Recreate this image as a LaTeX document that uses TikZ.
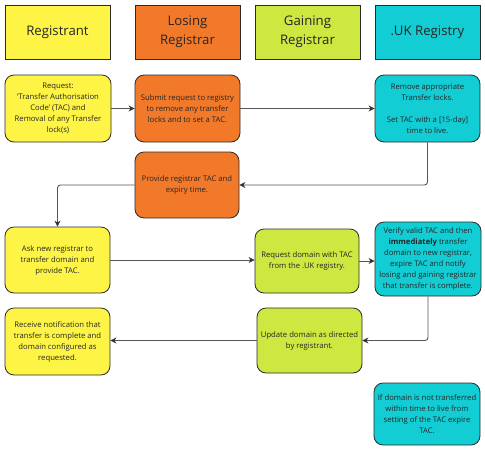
\documentclass[tikz,border=0pt]{standalone}
\usepackage{fontspec}
\setmainfont{Open Sans}
\usetikzlibrary{arrows.meta}
\definecolor{cyel}{HTML}{FEF445}
\definecolor{cora}{HTML}{F2792A}
\definecolor{clime}{HTML}{CEE741}
\definecolor{ccyan}{HTML}{12CDD4}
\definecolor{cline}{HTML}{555555}
\definecolor{cborder}{HTML}{2B2B2B}
\begin{document}
\begin{tikzpicture}[x=1pt,y=-1pt,
  head/.style={draw=cborder,line width=0.8pt,minimum width=105pt,minimum height=54pt,inner sep=0pt,align=center,
    font=\fontsize{13.2}{19}\selectfont,text=black!85},
  stepbox/.style={draw=cborder,line width=0.8pt,rounded corners=9pt,inner sep=0pt,align=center,
    font=\fontsize{7.7}{11}\selectfont,text=black!85},
  conn/.style={draw=cline,line width=0.9pt,-{Stealth[length=6pt,width=6pt,color=black!80]},rounded corners=3pt}]
\useasboundingbox (0,0) rectangle (485,451);
% headers
\node[head,fill=cyel] (h1) at (57.5,32) {Registrant};
\node[head,fill=cora] (h2) at (187.5,32) {Losing\\Registrar};
\node[head,fill=clime] (h3) at (307.5,32) {Gaining\\Registrar};
\node[head,fill=ccyan] (h4) at (427.5,32) {.UK Registry};
% row 1
\node[stepbox,fill=cyel,minimum width=106pt,minimum height=67pt] (r1) at (58,108.5)
  {Request:\\‘Transfer Authorisation\\Code’ (TAC) and\\Removal of any Transfer\\lock(s)};
\node[stepbox,fill=cora,minimum width=105pt,minimum height=67pt] (l1) at (187.5,108.5)
  {Submit request to registry\\to remove any transfer\\locks and to set a TAC.};
\node[stepbox,fill=ccyan,minimum width=105pt,minimum height=67pt] (u1) at (427.5,108.5)
  {Remove appropriate\\Transfer locks.\\[11pt]Set TAC with a [15-day]\\time to live.};
% row 2
\node[stepbox,fill=cora,minimum width=104pt,minimum height=66pt] (l2) at (187,185)
  {Provide registrar TAC and\\expiry time.};
% row 3
\node[stepbox,fill=cyel,minimum width=105pt,minimum height=66pt] (r2) at (57.5,260)
  {Ask new registrar to\\transfer domain and\\provide TAC.};
\node[stepbox,fill=clime,minimum width=104pt,minimum height=64pt] (g2) at (307,261)
  {Request domain with TAC\\from the .UK registry.};
\node[stepbox,fill=ccyan,minimum width=106pt,minimum height=74pt] (u2) at (428,259)
  {Verify valid TAC and then\\\textbf{immediately} transfer\\domain to new registrar,\\expire TAC and notify\\losing and gaining registrar\\that transfer is complete.};
% row 4
\node[stepbox,fill=cyel,minimum width=105pt,minimum height=67pt] (r3) at (57.5,341.5)
  {Receive notification that\\transfer is complete and\\domain configured as\\requested.};
\node[stepbox,fill=clime,minimum width=105pt,minimum height=65pt] (g3) at (309.5,340.5)
  {Update domain as directed\\by registrant.};
% note
\node[stepbox,fill=ccyan,minimum width=106pt,minimum height=62pt] (u3) at (427,414)
  {If domain is not transferred\\within time to live from\\setting of the TAC expire\\TAC.};
% connectors
\draw[conn] (r1.east) -- (l1.west);
\draw[conn] (l1.east) -- (u1.west);
\draw[conn] (u1.south) |- (l2.east);
\draw[conn] (l2.west) -| (r2.north);
\draw[conn] (r2.east) -- (r2.east -| g2.west);
\draw[conn] (g2.east) -- (g2.east -| u2.west);
\draw[conn] (u2.south) |- (g3.east);
\draw[conn] (g3.west) -- (g3.west -| r3.east);
\end{tikzpicture}
\end{document}
